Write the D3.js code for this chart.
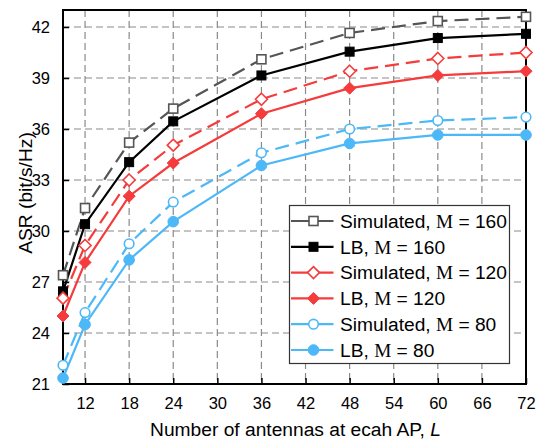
<!DOCTYPE html>
<html>
<head>
<meta charset="utf-8">
<script src="https://d3js.org/d3.v7.min.js"></script>
<style>
  body { margin: 0; background: #fff; }
  text { font-family: "Liberation Sans", Arial, sans-serif; }
</style>
</head>
<body>
<div id="chart"></div>
<script>
  // antennas per AP
  var L = [9, 12, 18, 24, 36, 48, 60, 72];

  var sim160 = [27.4, 31.35, 35.2, 37.2, 40.1, 41.65, 42.35, 42.6];
  var lb160  = [26.45, 30.4, 34.05, 36.45, 39.15, 40.55, 41.35, 41.6];
  var sim120 = [26.05, 29.15, 33.0, 35.05, 37.75, 39.4, 40.15, 40.5];
  var lb120  = [25.0, 28.15, 32.05, 34.0, 36.9, 38.4, 39.15, 39.4];
  var sim80  = [22.1, 25.2, 29.25, 31.7, 34.6, 36.0, 36.5, 36.7];
  var lb80   = [21.35, 24.5, 28.3, 30.55, 33.85, 35.15, 35.65, 35.65];

  var xTicks = [12, 18, 24, 30, 36, 42, 48, 54, 60, 66, 72];
  var yTicks = [21, 24, 27, 30, 33, 36, 39, 42];

  var labels = ["Simulated, ", "LB, ", "Simulated, ", "LB, ", "Simulated, ", "LB, "];
  var mVals = ["160", "160", "120", "120", "80", "80"];

  var series = [
    {vals: sim160, color: "#555555", dash: "14,7", marker: "square", filled: false},
    {vals: lb160,  color: "#000000", dash: null,   marker: "square", filled: true},
    {vals: sim120, color: "#f53b3b", dash: "14,7", marker: "diamond", filled: false},
    {vals: lb120,  color: "#f53b3b", dash: null,   marker: "diamond", filled: true},
    {vals: sim80,  color: "#4cb8f7", dash: "14,7", marker: "circle", filled: false},
    {vals: lb80,   color: "#4cb8f7", dash: null,   marker: "circle", filled: true}
  ];

  var margin = {top: 10, right: 11, bottom: 57, left: 63},
      width = 537 - margin.left - margin.right,
      height = 441 - margin.top - margin.bottom;

  var svg = d3.select("#chart")
    .append("svg")
      .attr("width", 537)
      .attr("height", 441)
    .append("g")
      .attr("transform", "translate(" + margin.left + "," + margin.top + ")");

  var x = d3.scaleLinear().domain([9, 72]).range([0, width]);
  var y = d3.scaleLinear().domain([21, 43]).range([height, 0]);

  // grid
  svg.append("g").selectAll("line")
    .data(xTicks.slice(0, -1))
    .enter().append("line")
      .attr("x1", d => x(d)).attr("x2", d => x(d))
      .attr("y1", 0).attr("y2", height)
      .attr("stroke", "#8a8a8a").attr("stroke-width", 1.2)
      .attr("stroke-dasharray", "7,4");

  svg.append("g").selectAll("line")
    .data(yTicks.slice(1))
    .enter().append("line")
      .attr("x1", 0).attr("x2", width)
      .attr("y1", d => y(d)).attr("y2", d => y(d))
      .attr("stroke", "#8a8a8a").attr("stroke-width", 1.2)
      .attr("stroke-dasharray", "7,4");

  // axes, ticks inward
  var xAxis = d3.axisBottom(x).tickValues(xTicks).tickSizeInner(-6).tickSizeOuter(0).tickPadding(13);
  var yAxis = d3.axisLeft(y).tickValues(yTicks).tickSizeInner(-6).tickSizeOuter(0).tickPadding(13);

  var gx = svg.append("g").attr("transform", "translate(0," + height + ")").call(xAxis);
  var gy = svg.append("g").call(yAxis);
  [gx, gy].forEach(function(g) {
    g.select(".domain").remove();
    g.selectAll(".tick line").attr("stroke", "#000").attr("stroke-width", 1.5);
    g.selectAll(".tick text").attr("font-size", "16.5px").attr("fill", "#000")
      .style("font-family", "'Liberation Sans', Arial, sans-serif");
  });

  // frame
  svg.append("rect")
    .attr("width", width).attr("height", height)
    .attr("fill", "none").attr("stroke", "#000").attr("stroke-width", 2);

  // lines
  series.forEach(function(s) {
    var line = d3.line()
      .x(function(d, i) { return x(L[i]); })
      .y(function(d) { return y(d); });
    svg.append("path")
      .datum(s.vals)
      .attr("d", line)
      .attr("fill", "none")
      .attr("stroke", s.color)
      .attr("stroke-width", 2.2)
      .attr("stroke-dasharray", s.dash);
  });

  function drawMarker(g, s, cx, cy) {
    var fill = s.filled ? s.color : "#fff";
    if (s.marker == "square") {
      g.append("rect").attr("x", cx - 4.5).attr("y", cy - 4.5)
        .attr("width", 9).attr("height", 9)
        .attr("fill", fill).attr("stroke", s.color).attr("stroke-width", s.filled ? 1 : 1.6);
    } else if (s.marker == "diamond") {
      var r = 6;
      g.append("path")
        .attr("d", "M" + cx + "," + (cy - r) + "L" + (cx + r) + "," + cy + "L" + cx + "," + (cy + r) + "L" + (cx - r) + "," + cy + "Z")
        .attr("fill", fill).attr("stroke", s.color).attr("stroke-width", s.filled ? 1 : 1.6);
    } else {
      g.append("circle").attr("cx", cx).attr("cy", cy)
        .attr("r", s.filled ? 5.3 : 4.8)
        .attr("fill", fill).attr("stroke", s.color).attr("stroke-width", s.filled ? 1 : 1.6);
    }
  }

  series.forEach(function(s) {
    var g = svg.append("g");
    s.vals.forEach(function(v, i) { drawMarker(g, s, x(L[i]), y(v)); });
  });

  // legend
  var lg = svg.append("g").attr("transform", "translate(" + (289.5 - margin.left) + "," + (205.5 - margin.top) + ")");
  lg.append("rect").attr("width", 220).attr("height", 158)
    .attr("fill", "#fff").attr("stroke", "#333").attr("stroke-width", 1.2);

  series.forEach(function(s, i) {
    var ry = 15.5 + i * 25.8;
    lg.append("line").attr("x1", 1.5).attr("x2", 44).attr("y1", ry).attr("y2", ry)
      .attr("stroke", s.color).attr("stroke-width", 2.2);
    drawMarker(lg, s, 24, ry);
    var t = lg.append("text").attr("x", 50.5).attr("y", ry + 6.8)
      .attr("font-size", "19.2px").attr("fill", "#000");
    t.append("tspan").text(labels[i]);
    t.append("tspan").text("M").style("font-family", "'Liberation Serif', 'Times New Roman', serif");
    t.append("tspan").text(" = " + mVals[i]);
  });

  // axis titles
  svg.append("text")
    .attr("x", width / 2 + 1).attr("y", height + 52)
    .attr("text-anchor", "middle").attr("font-size", "19.2px")
    .text("Number of antennas at ecah AP, ")
    .append("tspan").text("L").style("font-style", "italic");

  svg.append("text")
    .attr("transform", "rotate(-90)")
    .attr("x", -height / 2 + 4).attr("y", -31)
    .attr("text-anchor", "middle").attr("font-size", "19.2px")
    .text("ASR (bit/s/Hz)");
</script>
</body>
</html>
